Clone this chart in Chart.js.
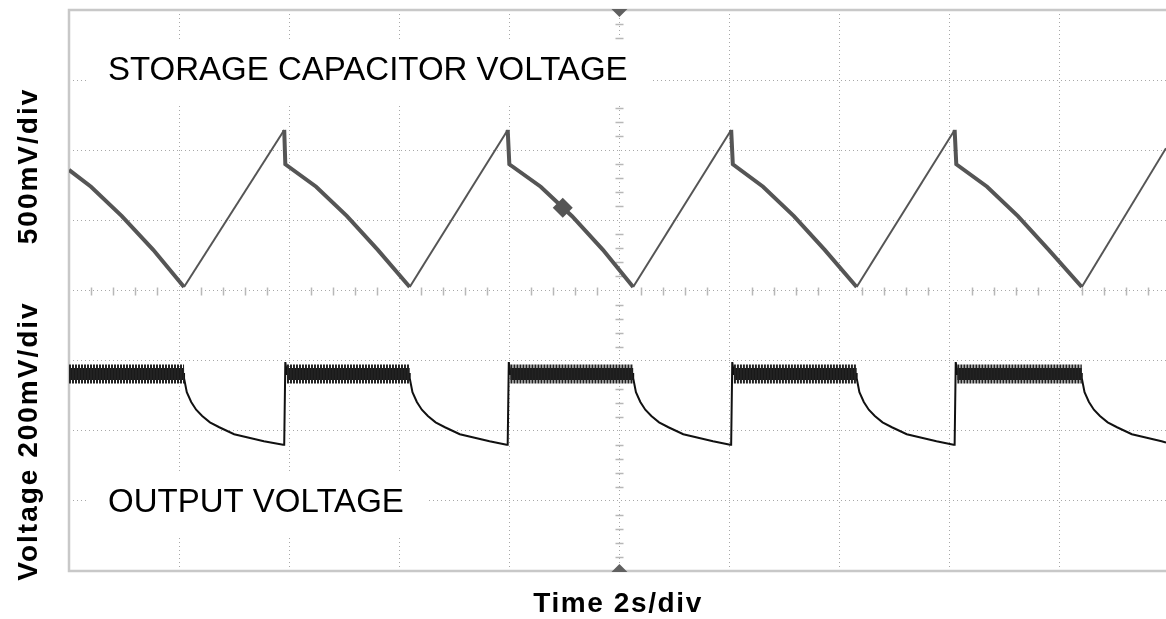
<!DOCTYPE html>
<html>
<head>
<meta charset="utf-8">
<script src="https://cdn.jsdelivr.net/npm/chart.js@4"></script>
<style>
  html, body { margin: 0; padding: 0; background: #fff; overflow: hidden; }
  #wrap { width: 1166px; height: 619px; position: relative; }
</style>
</head>
<body>
<div id="wrap"><canvas id="scope"></canvas></div>
<script>
// time in seconds (2 s/div), voltage in screen divisions (8 div tall)
const storageTime = [0, 0.40, 0.96, 1.53, 2.09, 3.91, 3.93, 4.49, 5.05, 5.61, 6.19,
  7.97, 8.00, 8.57, 9.14, 9.70, 10.25, 12.03, 12.06, 12.61, 13.17, 13.73, 14.31,
  16.09, 16.12, 16.68, 17.24, 17.80, 18.40, 19.93];
const storageDiv = [5.72, 5.48, 5.06, 4.58, 4.05, 6.29, 5.80, 5.48, 5.06, 4.58, 4.05,
  6.29, 5.80, 5.48, 5.06, 4.58, 4.05, 6.29, 5.80, 5.48, 5.06, 4.58, 4.05,
  6.29, 5.80, 5.48, 5.06, 4.58, 4.05, 6.03];

const outputTime = [0, 2.09,
  2.09, 2.14, 2.22, 2.31, 2.42, 2.56, 2.73, 3.00, 3.27, 3.54, 3.89, 3.91, 3.93, 3.96,
  6.19, 6.19, 6.24, 6.32, 6.41, 6.52, 6.66, 6.83, 7.10, 7.37, 7.64, 7.95, 7.97, 7.99, 8.02,
  10.25, 10.25, 10.30, 10.38, 10.47, 10.58, 10.72, 10.89, 11.16, 11.43, 11.70, 12.01, 12.03, 12.05, 12.08,
  14.31, 14.31, 14.36, 14.44, 14.53, 14.64, 14.78, 14.95, 15.22, 15.49, 15.76, 16.07, 16.09, 16.11, 16.14,
  18.40, 18.40, 18.45, 18.53, 18.62, 18.73, 18.87, 19.04, 19.31, 19.58, 19.85, 19.93];
const outputDiv = [2.81, 2.81,
  2.75, 2.55, 2.41, 2.30, 2.21, 2.12, 2.05, 1.95, 1.90, 1.85, 1.80, 1.80, 2.98, 2.81,
  2.81, 2.75, 2.55, 2.41, 2.30, 2.21, 2.12, 2.05, 1.95, 1.90, 1.85, 1.80, 1.80, 2.98, 2.81,
  2.81, 2.75, 2.55, 2.41, 2.30, 2.21, 2.12, 2.05, 1.95, 1.90, 1.85, 1.80, 1.80, 2.98, 2.81,
  2.81, 2.75, 2.55, 2.41, 2.30, 2.21, 2.12, 2.05, 1.95, 1.90, 1.85, 1.80, 1.80, 2.98, 2.81,
  2.81, 2.75, 2.55, 2.41, 2.30, 2.21, 2.12, 2.05, 1.95, 1.90, 1.85, 1.83];

// noisy flat part of the output trace
const plateauStart = [0, 3.96, 8.02, 12.08, 16.14];
const plateauEnd = [2.09, 6.19, 10.25, 14.31, 18.40];
const plateauDiv = 2.81;

const markerTime = [8.97];
const markerDiv = [5.18];

const timeTicks = [0, 2, 4, 6, 8, 10, 12, 14, 16, 18];
const divTicks = [0, 1, 2, 3, 4, 5, 6, 7, 8];

function pts(xs, ys) {
  return xs.map((x, i) => ({ x: x, y: ys[i] }));
}

const plateauPts = [];
plateauStart.forEach((s, i) => {
  plateauPts.push({ x: s, y: plateauDiv }, { x: plateauEnd[i], y: plateauDiv });
  if (i < plateauStart.length - 1) plateauPts.push({ x: (plateauEnd[i] + plateauStart[i + 1]) / 2, y: null });
});

const gridColor = '#a8a8a8';

const scopeDecor = {
  id: 'scopeDecor',
  beforeDatasetsDraw(chart) {
    const ctx = chart.ctx;
    const a = chart.chartArea;
    const xs = chart.scales.x, ys = chart.scales.y;
    ctx.save();

    // minor ticks on the centre cross
    ctx.strokeStyle = '#b8b8b8';
    ctx.lineWidth = 1.5;
    const cy = Math.round(ys.getPixelForValue(4)) + 0.5;
    const cx = Math.round(xs.getPixelForValue(10)) + 0.5;
    ctx.beginPath();
    for (let t = 0.4; t < 19.95; t += 0.4) {
      if (Math.abs(t / 2 - Math.round(t / 2)) < 0.01) continue;
      const px = Math.round(xs.getPixelForValue(t)) + 0.5;
      ctx.moveTo(px, cy - 4); ctx.lineTo(px, cy + 4);
    }
    for (let v = 0.2; v < 7.95; v += 0.2) {
      if (Math.abs(v - Math.round(v)) < 0.01) continue;
      const py = Math.round(ys.getPixelForValue(v)) + 0.5;
      ctx.moveTo(cx - 4, py); ctx.lineTo(cx + 4, py);
    }
    ctx.stroke();

    // channel labels on white boxes
    ctx.font = '33px "Liberation Sans", Arial, sans-serif';
    ctx.textBaseline = 'alphabetic';
    ctx.textAlign = 'left';
    [['STORAGE CAPACITOR VOLTAGE', 108, 80], ['OUTPUT VOLTAGE', 108, 512]].forEach(([txt, x, y]) => {
      const w = ctx.measureText(txt).width;
      ctx.fillStyle = '#fff';
      ctx.fillRect(x - 21, y - 40, w + 44, 63);
      ctx.fillStyle = '#000';
      ctx.fillText(txt, x, y);
    });

    // frame
    ctx.strokeStyle = '#c8c8c8';
    ctx.lineWidth = 2.5;
    ctx.beginPath();
    ctx.moveTo(chart.width + 5, a.top);
    ctx.lineTo(a.left, a.top);
    ctx.lineTo(a.left, a.bottom);
    ctx.lineTo(chart.width + 5, a.bottom);
    ctx.stroke();
    ctx.restore();
  },
  afterDatasetsDraw(chart) {
    const ctx = chart.ctx;
    const a = chart.chartArea;
    const cx = chart.scales.x.getPixelForValue(10);
    ctx.save();
    ctx.fillStyle = '#606060';
    ctx.beginPath();
    ctx.moveTo(cx - 8, a.top - 1); ctx.lineTo(cx + 8, a.top - 1); ctx.lineTo(cx, a.top + 7);
    ctx.closePath();
    ctx.moveTo(cx - 8, a.bottom + 1); ctx.lineTo(cx + 8, a.bottom + 1); ctx.lineTo(cx, a.bottom - 7);
    ctx.closePath();
    ctx.fill();

    // axis titles
    ctx.fillStyle = '#000';
    ctx.font = 'bold 28px "Liberation Sans", Arial, sans-serif';
    ctx.letterSpacing = '1.6px';
    ctx.textAlign = 'center';
    ctx.textBaseline = 'alphabetic';
    ctx.fillText('Time 2s/div', 618, 612);
    ctx.letterSpacing = '2px';
    ctx.translate(37, 0);
    ctx.rotate(-Math.PI / 2);
    ctx.fillText('Voltage 200mV/div', -441, 0);
    ctx.fillText('500mV/div', -166, 0);
    ctx.restore();
  }
};

new Chart(document.getElementById('scope'), {
  type: 'scatter',
  data: {
    datasets: [
      {
        label: 'Output noise',
        data: plateauPts,
        showLine: true,
        spanGaps: false,
        borderColor: '#222',
        borderWidth: 19,
        borderDash: [2, 1],
        borderCapStyle: 'butt',
        pointRadius: 0
      },
      {
        label: 'Output band',
        data: plateauPts,
        showLine: true,
        spanGaps: false,
        borderColor: '#1a1a1a',
        borderWidth: 12,
        borderCapStyle: 'butt',
        pointRadius: 0
      },
      {
        label: 'Output voltage',
        data: pts(outputTime, outputDiv),
        showLine: true,
        borderColor: '#111',
        borderWidth: 2,
        pointRadius: 0
      },
      {
        label: 'Storage capacitor voltage',
        data: pts(storageTime, storageDiv),
        showLine: true,
        borderColor: '#555',
        borderWidth: 2,
        segment: {
          borderWidth: c => (c.p1.parsed.y < c.p0.parsed.y ? 4 : 2)
        },
        pointRadius: 0
      },
      {
        label: 'Marker',
        data: pts(markerTime, markerDiv),
        pointStyle: 'rectRot',
        pointRadius: 10,
        backgroundColor: '#555',
        borderColor: '#555',
        borderWidth: 0
      }
    ]
  },
  options: {
    responsive: true,
    maintainAspectRatio: false,
    animation: false,
    layout: { autoPadding: false, padding: { left: 69, top: 10, right: 0, bottom: 48 } },
    plugins: {
      legend: { display: false },
      tooltip: { enabled: false }
    },
    scales: {
      x: {
        type: 'linear',
        min: 0,
        max: 19.93,
        afterBuildTicks: s => { s.ticks = timeTicks.map(v => ({ value: v })); },
        ticks: { display: false },
        grid: { color: gridColor, lineWidth: 1, drawTicks: false },
        border: { display: false, dash: [1, 3] }
      },
      y: {
        type: 'linear',
        min: 0,
        max: 8,
        afterBuildTicks: s => { s.ticks = divTicks.map(v => ({ value: v })); },
        ticks: { display: false },
        grid: { color: gridColor, lineWidth: 1, drawTicks: false },
        border: { display: false, dash: [1, 3] }
      }
    }
  },
  plugins: [scopeDecor]
});
</script>
</body>
</html>
